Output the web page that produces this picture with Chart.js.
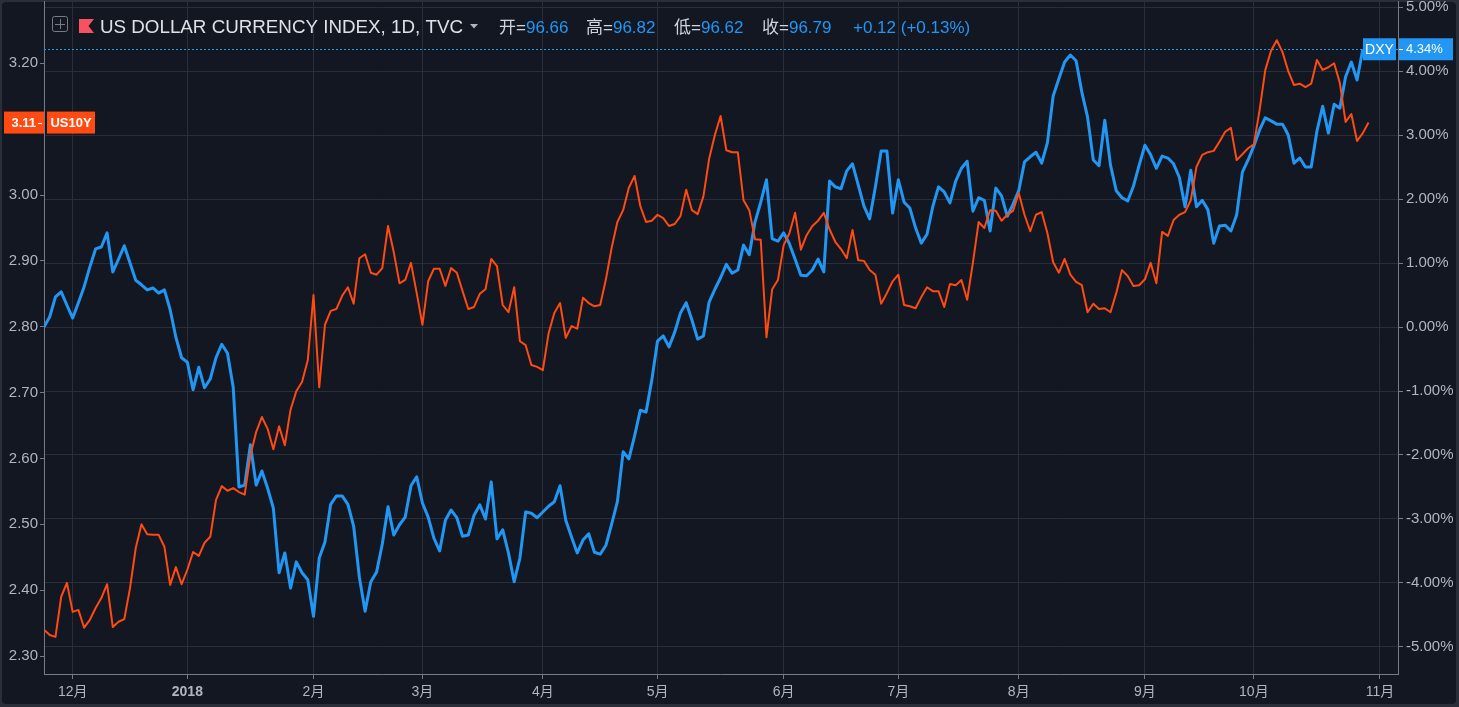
<!DOCTYPE html>
<html lang="zh-CN">
<head>
<meta charset="utf-8">
<title>DXY vs US10Y</title>
<script src="https://cdn.jsdelivr.net/npm/chart.js@4.4.1/dist/chart.umd.min.js"></script>
<style>
  html, body { margin: 0; padding: 0; background: #131722; overflow: hidden; }
  canvas { display: block; }
</style>
</head>
<body>
<canvas id="chart" width="1459" height="707" style="width:1459px;height:707px"></canvas>
<script>
// DXY (% change from first bar, right axis) vs US10Y yield (left axis), daily bars

// ─── Data ──────────────────────────────────────────────────────────────
const monthTickIdx    = [5, 25, 47, 66, 87, 107, 129, 149, 170, 192, 211, 233];
const monthTickLabels = ['12月', '2018', '2月', '3月', '4月', '5月', '6月', '7月', '8月', '9月', '10月', '11月'];
const yieldTicks = [2.3, 2.4, 2.5, 2.6, 2.7, 2.8, 2.9, 3.0, 3.1, 3.2];
const pctTicks   = [-5, -4, -3, -2, -1, 0, 1, 2, 3, 4, 5];

const dxyPct = [
    0.00, 0.16, 0.47, 0.55, 0.34, 0.14, 0.38, 0.63, 0.94, 1.22,
    1.25, 1.47, 0.86, 1.06, 1.27, 1.00, 0.73, 0.66, 0.58, 0.61,
    0.53, 0.58, 0.27, -0.16, -0.48, -0.55, -0.98, -0.63, -0.95, -0.81,
    -0.48, -0.27, -0.41, -0.94, -2.50, -2.47, -1.84, -2.47, -2.25, -2.52,
    -2.83, -3.84, -3.53, -4.08, -3.67, -3.84, -3.95, -4.52, -3.61, -3.36,
    -2.77, -2.64, -2.64, -2.77, -3.11, -3.91, -4.44, -3.98, -3.83, -3.39,
    -2.81, -3.25, -3.09, -2.97, -2.48, -2.34, -2.75, -2.97, -3.30, -3.50,
    -3.02, -2.86, -2.98, -3.27, -3.25, -2.94, -2.78, -3.00, -2.42, -3.31,
    -3.17, -3.53, -3.98, -3.61, -2.89, -2.91, -2.98, -2.89, -2.80, -2.73,
    -2.48, -3.02, -3.28, -3.53, -3.33, -3.23, -3.52, -3.55, -3.41, -3.08,
    -2.73, -1.95, -2.06, -1.70, -1.30, -1.33, -0.83, -0.22, -0.14, -0.31,
    -0.08, 0.22, 0.38, 0.11, -0.19, -0.14, 0.39, 0.59, 0.77, 0.98,
    0.84, 0.89, 1.28, 1.13, 1.64, 1.95, 2.30, 1.38, 1.34, 1.47,
    1.30, 1.06, 0.81, 0.80, 0.89, 1.06, 0.86, 2.28, 2.19, 2.16,
    2.44, 2.55, 2.22, 1.89, 1.69, 2.19, 2.75, 2.75, 1.78, 2.30,
    1.95, 1.86, 1.55, 1.31, 1.45, 1.88, 2.19, 2.11, 1.94, 2.28,
    2.48, 2.59, 1.81, 2.02, 1.98, 1.50, 2.17, 2.05, 1.73, 1.92,
    2.13, 2.58, 2.66, 2.73, 2.56, 2.88, 3.61, 3.88, 4.14, 4.25,
    4.16, 3.67, 3.28, 2.61, 2.52, 3.23, 2.53, 2.13, 2.02, 1.97,
    2.20, 2.53, 2.84, 2.69, 2.48, 2.67, 2.64, 2.55, 2.34, 1.88,
    2.45, 1.88, 1.98, 1.83, 1.31, 1.58, 1.59, 1.50, 1.75, 2.42,
    2.61, 2.83, 3.08, 3.27, 3.22, 3.17, 3.17, 3.00, 2.56, 2.64,
    2.50, 2.50, 3.06, 3.45, 3.03, 3.48, 3.42, 3.91, 4.14, 3.86,
    4.34
];

const us10y = [
    2.340, 2.332, 2.329, 2.390, 2.411, 2.367, 2.370, 2.343, 2.355, 2.373,
    2.388, 2.409, 2.344, 2.352, 2.356, 2.403, 2.464, 2.500, 2.485, 2.484,
    2.484, 2.466, 2.408, 2.435, 2.409, 2.431, 2.458, 2.452, 2.472, 2.481,
    2.537, 2.558, 2.551, 2.555, 2.549, 2.545, 2.605, 2.640, 2.663, 2.645,
    2.614, 2.649, 2.620, 2.674, 2.702, 2.716, 2.749, 2.848, 2.708, 2.803,
    2.824, 2.827, 2.847, 2.860, 2.835, 2.904, 2.910, 2.882, 2.879, 2.889,
    2.953, 2.913, 2.866, 2.871, 2.897, 2.851, 2.803, 2.869, 2.888, 2.888,
    2.862, 2.889, 2.882, 2.854, 2.827, 2.830, 2.850, 2.857, 2.903, 2.892,
    2.833, 2.822, 2.860, 2.778, 2.772, 2.742, 2.739, 2.734, 2.790, 2.821,
    2.836, 2.783, 2.801, 2.797, 2.844, 2.836, 2.831, 2.833, 2.872, 2.920,
    2.959, 2.977, 3.011, 3.029, 2.983, 2.959, 2.961, 2.970, 2.965, 2.953,
    2.956, 2.968, 3.008, 2.977, 2.971, 2.998, 3.055, 3.091, 3.120, 3.068,
    3.065, 3.065, 2.992, 2.977, 2.933, 2.932, 2.784, 2.857, 2.871, 2.924,
    2.942, 2.973, 2.917, 2.939, 2.953, 2.961, 2.973, 2.948, 2.929, 2.918,
    2.904, 2.947, 2.901, 2.900, 2.886, 2.879, 2.835, 2.851, 2.869, 2.879,
    2.833, 2.831, 2.828, 2.845, 2.860, 2.854, 2.854, 2.830, 2.865, 2.863,
    2.871, 2.841, 2.897, 2.959, 2.950, 2.977, 2.976, 2.961, 2.970, 2.976,
    3.003, 2.970, 2.945, 2.970, 2.974, 2.942, 2.898, 2.882, 2.903, 2.879,
    2.868, 2.863, 2.822, 2.835, 2.827, 2.828, 2.822, 2.851, 2.886, 2.877,
    2.862, 2.863, 2.872, 2.897, 2.866, 2.944, 2.938, 2.962, 2.970, 2.974,
    2.992, 3.043, 3.061, 3.065, 3.067, 3.081, 3.096, 3.102, 3.053, 3.062,
    3.071, 3.077, 3.129, 3.190, 3.219, 3.235, 3.217, 3.188, 3.167, 3.169,
    3.164, 3.169, 3.205, 3.190, 3.194, 3.200, 3.170, 3.111, 3.123, 3.082,
    3.094, 3.110
];

// ─── Look ──────────────────────────────────────────────────────────────
const FONT      = "'Liberation Sans', Arial, 'Noto Sans CJK SC', sans-serif";
const BG        = '#131722';
const GRID      = '#2a2e39';
const AXIS      = '#787b86';
const TEXT      = '#b2b5be';
const BLUE      = '#2196f3';
const ORANGE    = '#ff4a12';

// keep the plot box fixed, whatever the labels measure
function fixSize(w, h) {
    return s => {
        if (w != null) s.width = w;
        if (h != null) s.height = h;
        s.paddingTop = s.paddingBottom = s.paddingLeft = s.paddingRight = 0;
    };
}

// ─── Plugins ───────────────────────────────────────────────────────────
const framePlugin = {
    id: 'frame',
    beforeDraw(chart) {
        const c = chart.ctx;
        c.save();
        c.fillStyle = '#2a2e39';
        c.fillRect(0, 0, chart.width, chart.height);
        c.fillStyle = BG;
        c.beginPath();
        c.roundRect(2, 2, chart.width - 5, chart.height - 5, 4);
        c.fill();
        c.restore();
    },
    beforeDatasetsDraw(chart) {
        // dotted guide at the last DXY value
        const c = chart.ctx;
        const y = Math.round(chart.scales.yPct.getPixelForValue(dxyPct[dxyPct.length - 1])) + 0.5;
        c.save();
        c.strokeStyle = BLUE;
        c.lineWidth = 1;
        c.setLineDash([2, 2]);
        c.beginPath();
        c.moveTo(chart.chartArea.left, y);
        c.lineTo(chart.chartArea.right, y);
        c.stroke();
        c.restore();
    }
};

const overlayPlugin = {
    id: 'overlay',
    afterDraw(chart) {
        const c = chart.ctx;
        const { left, right } = chart.chartArea;
        c.save();

        // header: pane button + flag
        c.strokeStyle = AXIS;
        c.lineWidth = 1;
        c.beginPath();
        c.roundRect(52.5, 16.5, 15, 15, 2);
        c.moveTo(55, 24.5); c.lineTo(65, 24.5);
        c.moveTo(60.5, 19); c.lineTo(60.5, 29);
        c.stroke();

        c.fillStyle = '#f7525f';
        c.beginPath();
        c.moveTo(79, 19); c.lineTo(94, 19); c.lineTo(88.5, 26); c.lineTo(94, 33); c.lineTo(79, 33);
        c.closePath();
        c.fill();

        // title, squeezed to the width it takes in the source
        const title = 'US DOLLAR CURRENCY INDEX, 1D, TVC';
        c.fillStyle = '#dfe1e6';
        c.font = '19px ' + FONT;
        c.textBaseline = 'alphabetic';
        c.textAlign = 'left';
        const tw = c.measureText(title).width;
        c.save();
        c.translate(100, 33);
        c.scale(Math.min(1, 363 / tw), 1);
        c.fillText(title, 0, 0);
        c.restore();

        c.fillStyle = TEXT;
        c.beginPath();
        c.moveTo(470, 24); c.lineTo(478, 24); c.lineTo(474, 28.5);
        c.closePath();
        c.fill();

        // OHLC read-out
        c.font = '17px ' + FONT;
        const ohlc = [['开', '96.66', 499], ['高', '96.82', 586], ['低', '96.62', 674], ['收', '96.79', 762]];
        ohlc.forEach(([k, v, x]) => {
            c.fillStyle = '#d1d4dc';
            c.fillText(k + '=', x, 33);
            c.fillStyle = BLUE;
            c.fillText(v, x + c.measureText(k + '=').width, 33);
        });
        c.fillStyle = BLUE;
        c.fillText('+0.12 (+0.13%)', 853, 33);

        // last-value tag, DXY (right)
        const yd = chart.scales.yPct.getPixelForValue(dxyPct[dxyPct.length - 1]);
        c.fillStyle = BLUE;
        c.fillRect(right - 35, yd - 11, 33, 22);
        c.fillRect(right + 1, yd - 11, 54, 22);
        c.fillStyle = '#ffffff';
        c.font = '14px ' + FONT;
        c.textBaseline = 'middle';
        c.textAlign = 'center';
        c.fillText('DXY', right - 18.5, yd + 0.5);
        c.font = '13px ' + FONT;
        c.textAlign = 'left';
        c.fillText(dxyPct[dxyPct.length - 1].toFixed(2) + '%', right + 8, yd + 0.5);
        c.fillRect(right + 1, Math.round(yd), 4, 1);

        // last-value tag, US10Y (left)
        const yy = chart.scales.yYield.getPixelForValue(us10y[us10y.length - 1]);
        c.fillStyle = ORANGE;
        c.fillRect(4, yy - 11, left - 4, 22);
        c.fillRect(left + 3, yy - 11, 48, 22);
        c.fillStyle = '#ffffff';
        c.font = 'bold 13px ' + FONT;
        c.textAlign = 'right';
        c.fillText(us10y[us10y.length - 1].toFixed(2), 36, yy + 0.5);
        c.fillRect(38, Math.round(yy), 4, 1);
        c.textAlign = 'center';
        c.fillText('US10Y', left + 27, yy + 0.5);

        c.restore();
    }
};

// ─── Chart ─────────────────────────────────────────────────────────────
const ctx = document.getElementById('chart').getContext('2d');

new Chart(ctx, {
    type: 'line',
    data: {
        datasets: [
            {
                label: 'US10Y',
                data: us10y.map((v, i) => ({ x: i, y: v })),
                yAxisID: 'yYield',
                borderColor: ORANGE,
                borderWidth: 2,
                pointRadius: 0,
                tension: 0,
                borderJoinStyle: 'round'
            },
            {
                label: 'DXY',
                data: dxyPct.map((v, i) => ({ x: i, y: v })),
                yAxisID: 'yPct',
                borderColor: BLUE,
                borderWidth: 3,
                pointRadius: 0,
                tension: 0,
                borderJoinStyle: 'round'
            }
        ]
    },
    options: {
        responsive: false,
        animation: false,
        events: [],
        layout: { padding: { top: 1, left: 0, right: 0, bottom: 0 } },
        plugins: {
            legend: { display: false },
            tooltip: { enabled: false }
        },
        scales: {
            x: {
                type: 'linear',
                min: 0,
                max: 236.14,
                afterBuildTicks: s => { s.ticks = monthTickIdx.map(v => ({ value: v })); },
                afterFit: fixSize(null, 33),
                grid: { color: GRID, tickColor: AXIS, tickLength: 5 },
                border: { color: AXIS },
                ticks: {
                    autoSkip: false,
                    maxRotation: 0,
                    padding: 5,
                    color: TEXT,
                    font: c => ({ family: FONT, size: 14, weight: c.index === 1 ? 'bold' : 'normal' }),
                    callback: (v, i) => monthTickLabels[i]
                }
            },
            yYield: {
                position: 'left',
                min: 2.2727,
                max: 3.2946,
                afterBuildTicks: s => { s.ticks = yieldTicks.map(v => ({ value: v })); },
                afterFit: fixSize(44, null),
                grid: { drawOnChartArea: false, tickColor: AXIS, tickLength: 4 },
                border: { color: AXIS },
                ticks: {
                    autoSkip: false,
                    padding: 2,
                    color: TEXT,
                    font: { family: FONT, size: 15 },
                    callback: v => v.toFixed(2)
                }
            },
            yPct: {
                position: 'right',
                min: -5.422,
                max: 5.094,
                afterBuildTicks: s => { s.ticks = pctTicks.map(v => ({ value: v })); },
                afterFit: fixSize(61, null),
                grid: { color: GRID, tickColor: AXIS, tickLength: 5 },
                border: { color: AXIS },
                ticks: {
                    autoSkip: false,
                    padding: 3,
                    color: TEXT,
                    font: { family: FONT, size: 15 },
                    callback: v => v.toFixed(2) + '%'
                }
            }
        }
    },
    plugins: [framePlugin, overlayPlugin]
});
</script>
</body>
</html>
